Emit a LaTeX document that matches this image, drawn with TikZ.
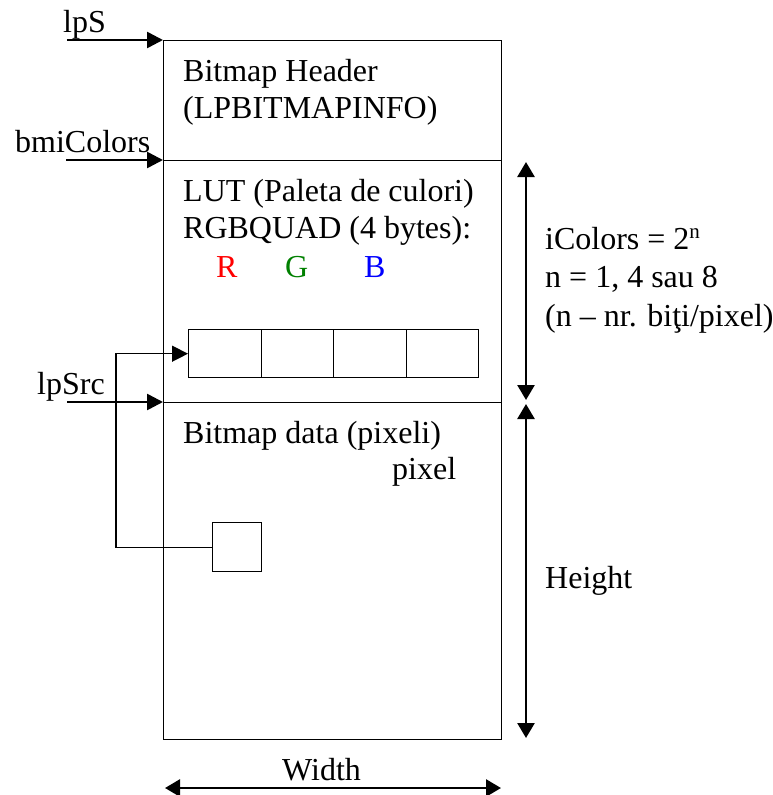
\documentclass[tikz,border=0pt]{standalone}
\usepackage{fontspec}
\setmainfont{Liberation Serif}
\usetikzlibrary{arrows.meta}
\begin{document}
\begin{tikzpicture}[x=1pt,y=-1pt,
  every node/.style={font=\fontsize{32}{38}\selectfont},
  txt/.style={anchor=base west,inner sep=0pt},
  sect/.style={draw,line width=1.4pt,anchor=north west,inner sep=0pt,minimum width=338pt},
  cell/.style={draw,line width=1.4pt,anchor=north west,inner sep=0pt,minimum width=72.5pt,minimum height=48pt},
  ptr/.style={line width=2.6pt,-{Triangle[length=16pt,width=16pt]}},
  dim/.style={line width=2.6pt,{Triangle[length=15pt,width=17pt]}-{Triangle[length=15pt,width=17pt]}},
  conn/.style={line width=1.4pt,-{Triangle[length=16pt,width=16pt]}}]
\useasboundingbox (0,0) rectangle (773,795);
% main sections
\node[sect,minimum height=120pt] (hdr) at (163,40) {};
\node[sect,minimum height=242pt] (lut) at (163,160) {};
\node[sect,minimum height=337pt] (data) at (163,402) {};
% texts in sections
\node[txt] (t1) at (183,81) {Bitmap Header};
\node[txt] (t2) at (183,118) {(LPBITMAPINFO)};
\node[txt] (t3) at (183,201) {LUT (Paleta de culori)};
\node[txt] (t4) at (183,238) {RGBQUAD (4 bytes):};
\node[txt,text={rgb,255:red,255;green,0;blue,0}] (tR) at (216,277) {R};
\node[txt,text={rgb,255:red,0;green,128;blue,0}] (tG) at (285,277) {G};
\node[txt,text={rgb,255:red,0;green,0;blue,255}] (tB) at (364,277) {B};
\node[txt] (t5) at (183,443) {Bitmap data (pixeli)};
\node[txt] (t6) at (392,479) {pixel};
% LUT cells
\node[cell] (c1) at (188,329) {};
\node[cell] (c2) at (260.5,329) {};
\node[cell] (c3) at (333,329) {};
\node[cell] (c4) at (405.5,329) {};
% pixel
\node[draw,line width=1.4pt,anchor=north west,inner sep=0pt,minimum width=49pt,minimum height=49pt] (pix) at (212,522) {};
% pointer labels
\node[txt] (lps) at (63,32) {lpS};
\node[txt] (bmi) at (15,152) {bmiColors};
\node[txt] (lpsrc) at (37,394) {lpSrc};
\coordinate (s1) at (67,40);
\coordinate (s2) at (66,160);
\coordinate (s3) at (67,402);
\draw[ptr] (s1) -- (hdr.north west);
\draw[ptr] (s2) -- (lut.north west);
\draw[ptr] (s3) -- (data.north west);
% connector pixel -> LUT entry
\coordinate (ex) at (116,0);
\draw[conn] (pix.west) -- (pix.west -| ex) |- (c1.west);
% right texts
\node[txt] (r1) at (545,249) {iColors = 2{\fontsize{21}{21}\selectfont\raisebox{11pt}{n}}};
\node[txt] (r2) at (545,287) {n = 1, 4 sau 8};
\node[txt] (r3) at (545,326) {(n – nr. biţi/pixel)};
\node[txt] (hgt) at (545,588) {Height};
\node[txt] (wid) at (282,780) {Width};
% dimension arrows
\coordinate (d1a) at (526,162);
\coordinate (d1b) at (526,400);
\coordinate (d2a) at (526,404);
\coordinate (d2b) at (526,738);
\coordinate (w1) at (165,788);
\coordinate (w2) at (501,788);
\draw[dim] (d1a) -- (d1b);
\draw[dim] (d2a) -- (d2b);
\draw[dim] (w1) -- (w2);
\end{tikzpicture}
\end{document}
